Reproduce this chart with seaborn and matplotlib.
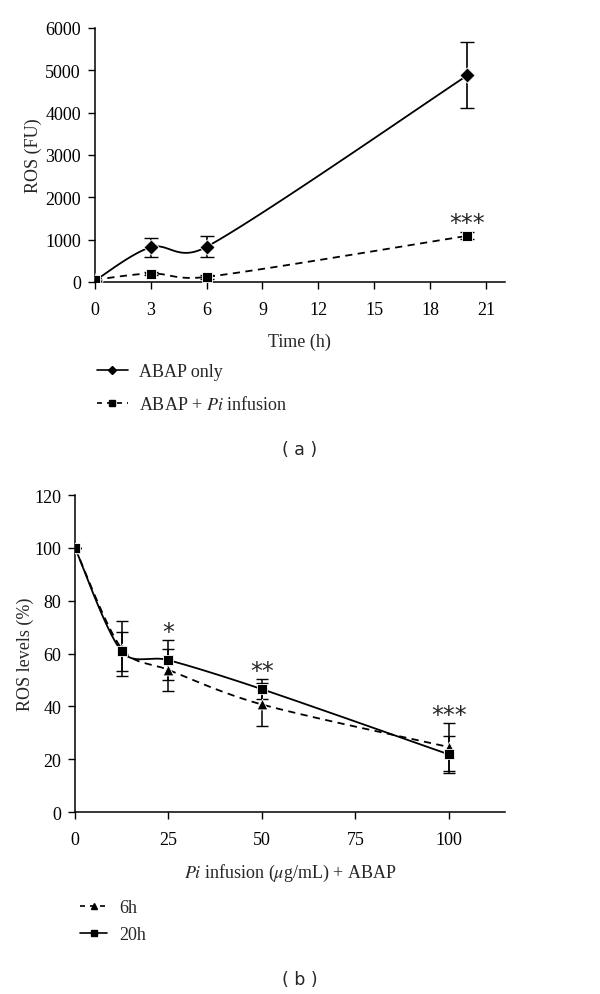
import numpy as np
import pandas as pd
import matplotlib
matplotlib.use("Agg")
import matplotlib.pyplot as plt
from matplotlib.lines import Line2D
import seaborn as sns

sns.set_theme(style="ticks")
plt.rcParams["font.family"] = ["Liberation Serif", "DejaVu Serif"]
plt.rcParams["mathtext.fontset"] = "stix"

# panel (a): ROS over time
time_h = [0, 3, 6, 20]
abap_only = [30, 820, 830, 4880]
abap_only_err = [0, 225, 250, 780]
abap_pi = [50, 200, 120, 1090]
abap_pi_err = [0, 40, 40, 80]

# panel (b): ROS levels vs Pi infusion dose
dose = [0, 12.5, 25, 50, 100]
ros_6h = [100, 61.8, 53.8, 40.7, 24.6]
ros_6h_err = [0, 10.5, 8.0, 8.0, 9.0]
ros_20h = [100, 60.8, 57.5, 46.5, 21.8]
ros_20h_err = [0, 7.5, 7.5, 3.8, 7.0]

stars_a = {20: "***"}
stars_b = {25: "*", 50: "**", 100: "***"}


def smooth(x, y, xr, yr, n=40):
    # excel-ish smoothed line: catmull-rom tangents, damped when the
    # neighbouring segment is much longer than this one
    pts = np.column_stack([np.asarray(x, float) / xr, np.asarray(y, float) / yr])
    out = [pts[0]]
    for i in range(len(pts) - 1):
        p0 = pts[max(i - 1, 0)]
        p1 = pts[i]
        p2 = pts[i + 1]
        p3 = pts[min(i + 2, len(pts) - 1)]
        d01 = np.linalg.norm(p1 - p0)
        d12 = np.linalg.norm(p2 - p1)
        d23 = np.linalg.norm(p3 - p2)
        s1 = np.sqrt(min(1, 2 * d12 / (d01 + d12)))
        s2 = np.sqrt(min(1, 2 * d12 / (d12 + d23)))
        c1 = p1 + (p2 - p0) / 6 * s1
        c2 = p2 - (p3 - p1) / 6 * s2
        t = np.linspace(0, 1, n)[1:, None]
        seg = (1 - t) ** 3 * p1 + 3 * (1 - t) ** 2 * t * c1 + 3 * (1 - t) * t ** 2 * c2 + t ** 3 * p2
        out.extend(seg)
    out = np.array(out)
    return out[:, 0] * xr, out[:, 1] * yr


fig = plt.figure(figsize=(6, 9.95), dpi=100)
ax1 = fig.add_axes([0.158, 0.7156, 0.683, 0.2553])
ax2 = fig.add_axes([0.125, 0.1829, 0.7167, 0.3186])

fs = 13
star_fs = 17

# ---- panel (a)
xr_a, yr_a = 22 / 410, 6000 / 254
sx, sy = smooth(time_h, abap_only, xr_a, yr_a)
sns.lineplot(x=sx, y=sy, sort=False, color="black", lw=1.3, ax=ax1)
sx, sy = smooth(time_h, abap_pi, xr_a, yr_a)
sns.lineplot(x=sx, y=sy, sort=False, color="black", lw=1.3, ax=ax1, linestyle=(0, (4, 3)))
ax1.errorbar(time_h, abap_only, yerr=abap_only_err, fmt="none", ecolor="black", capsize=5, elinewidth=1.2)
ax1.errorbar(time_h, abap_pi, yerr=abap_pi_err, fmt="none", ecolor="black", capsize=5, elinewidth=1.2)
sns.scatterplot(x=time_h, y=abap_only, marker="D", s=60, color="black", ax=ax1, zorder=5)
sns.scatterplot(x=time_h, y=abap_pi, marker="s", s=60, color="black", ax=ax1, zorder=5)
for xv, txt in stars_a.items():
    i = time_h.index(xv)
    ax1.text(xv, abap_pi[i] + 300, txt, ha="center", va="center", fontsize=star_fs,
             family="DejaVu Sans")

ax1.set_xlim(0, 22)
ax1.set_ylim(0, 6000)
ax1.set_xticks(range(0, 22, 3))
ax1.set_yticks(range(0, 6001, 1000))
ax1.set_xlabel("Time (h)", fontsize=fs, labelpad=10)
ax1.set_ylabel("ROS (FU)", fontsize=fs, labelpad=2)

h_a = [Line2D([], [], color="black", lw=1.2, marker="D", markersize=4),
       Line2D([], [], color="black", lw=1.2, linestyle=(0, (3, 3)), marker="s", markersize=4)]
ax1.legend(h_a, ["ABAP only", "ABAP + $\\mathit{Pi}$ infusion"], loc="upper left",
           bbox_to_anchor=(97 / 600, 1 - 364 / 995), bbox_transform=fig.transFigure,
           frameon=False, fontsize=fs, handlelength=1.7, handletextpad=0.6,
           labelspacing=0.85, borderpad=0, borderaxespad=0)
fig.text(0.5, 1 - 450 / 995, "( a )", ha="center", va="center", fontsize=12.5, family="DejaVu Sans")

# ---- panel (b)
xr_b, yr_b = 115 / 430, 120 / 317
sx, sy = smooth(dose, ros_6h, xr_b, yr_b)
sns.lineplot(x=sx, y=sy, sort=False, color="black", lw=1.3, ax=ax2, linestyle=(0, (4, 3)))
sx, sy = smooth(dose, ros_20h, xr_b, yr_b)
sns.lineplot(x=sx, y=sy, sort=False, color="black", lw=1.3, ax=ax2)
ax2.errorbar(dose, ros_6h, yerr=ros_6h_err, fmt="none", ecolor="black", capsize=4, elinewidth=1.1)
ax2.errorbar(dose, ros_20h, yerr=ros_20h_err, fmt="none", ecolor="black", capsize=4, elinewidth=1.1)
sns.scatterplot(x=dose, y=ros_6h, marker="^", s=60, color="black", ax=ax2, zorder=5)
sns.scatterplot(x=dose, y=ros_20h, marker="s", s=55, color="black", ax=ax2, zorder=5)
for xv, txt in stars_b.items():
    i = dose.index(xv)
    top = max(ros_6h[i] + ros_6h_err[i], ros_20h[i] + ros_20h_err[i])
    ax2.text(xv, top + 3.0, txt, ha="center", va="center", fontsize=star_fs, family="DejaVu Sans")

ax2.set_xlim(0, 115)
ax2.set_ylim(0, 120)
ax2.set_xticks([0, 25, 50, 75, 100])
ax2.set_yticks(range(0, 121, 20))
ax2.set_xlabel("$\\mathit{Pi}$ infusion ($\\mu$g/mL) + ABAP", fontsize=fs, labelpad=10)
ax2.set_ylabel("ROS levels (%)", fontsize=fs, labelpad=0)

h_b = [Line2D([], [], color="black", lw=1.2, linestyle=(0, (3, 3)), marker="^", markersize=4),
       Line2D([], [], color="black", lw=1.2, marker="s", markersize=4)]
ax2.legend(h_b, ["6h", "20h"], loc="upper left",
           bbox_to_anchor=(80 / 600, 1 - 900 / 995), bbox_transform=fig.transFigure,
           frameon=False, fontsize=fs, handlelength=1.5, handletextpad=0.7,
           labelspacing=0.55, borderpad=0, borderaxespad=0)
fig.text(0.5, 1 - 980 / 995, "( b )", ha="center", va="center", fontsize=12.5, family="DejaVu Sans")

for ax in (ax1, ax2):
    sns.despine(ax=ax)
    ax.tick_params(direction="out", length=5, width=1, labelsize=fs, colors="black")
    ax.tick_params(axis="x", pad=9)
    ax.tick_params(axis="y", pad=5)
    for s in ("left", "bottom"):
        ax.spines[s].set_linewidth(1.1)
        ax.spines[s].set_color("black")

fig.savefig("out.png", dpi=100, facecolor="white")
